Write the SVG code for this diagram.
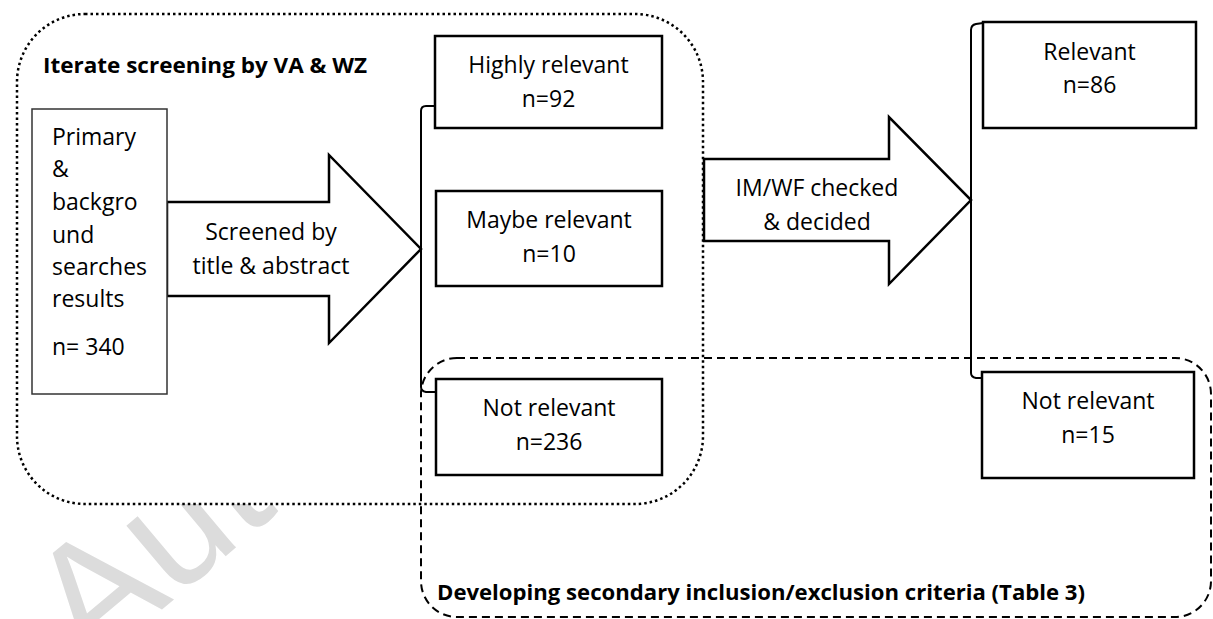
<svg xmlns="http://www.w3.org/2000/svg" width="1213" height="619" viewBox="0 0 1213 619">
<style>
.lbl{font-family:"Open Sans","Liberation Sans",sans-serif;font-size:23px;fill:#000;text-anchor:middle}
.lft{font-family:"Open Sans","Liberation Sans",sans-serif;font-size:23px;fill:#000}
.ttl{font-family:"Open Sans","Liberation Sans",sans-serif;font-size:21px;font-weight:700;fill:#000}
.box{fill:#fff;stroke:#000;stroke-width:2.5}
.arr{fill:#fff;stroke:#000;stroke-width:2.5;stroke-linejoin:miter}
.brk{fill:none;stroke:#000;stroke-width:2}
.wm{font-family:"Liberation Sans",sans-serif;font-size:165px;fill:#dcdcdc}
</style>
<rect width="1213" height="619" fill="#fff"/>
<text class="wm" transform="translate(90 670) rotate(-40)">Author</text>
<g id="group-iterate">
<rect x="17" y="14" width="686" height="490" rx="68" ry="68" fill="#fff" stroke="#000" stroke-width="2.5" stroke-dasharray="2.5 3"/>
<text class="ttl" x="43" y="73" textLength="324" lengthAdjust="spacingAndGlyphs">Iterate screening by VA &amp; WZ</text>
</g>
<g id="group-developing">
<rect x="421" y="358" width="790" height="259" rx="36" ry="36" fill="none" stroke="#000" stroke-width="2" stroke-dasharray="8 5"/>
<text class="ttl" x="437" y="600" textLength="648" lengthAdjust="spacingAndGlyphs">Developing secondary inclusion/exclusion criteria (Table 3)</text>
</g>
<g id="connectors">
<path class="brk" d="M435,106 L426,106 Q421,106 421,111 L421,387 Q421,391 426,392 L436,392"/>
<path class="brk" d="M983,23 L976,24 Q971,25 971,30 L971,373 Q971,377 976,378 L982,378"/>
<g id="arrow-screened">
<polygon class="arr" points="167,202 329,202 329,155 421,249 329,343 329,296 167,296"/>
<text class="lbl" x="271" y="240">Screened by</text>
<text class="lbl" x="271" y="274">title &amp; abstract</text>
</g>
<g id="arrow-checked">
<polygon class="arr" points="704,159 889,159 889,117 971,200 889,284 889,241 704,241"/>
<text class="lbl" x="817" y="196">IM/WF checked</text>
<text class="lbl" x="817" y="230">&amp; decided</text>
</g>
</g>
<g id="node-primary">
<rect x="32" y="109" width="135" height="285" fill="#fff" stroke="#333" stroke-width="1.5"/>
<text class="lft" x="52" y="145">Primary</text>
<text class="lft" x="52" y="177">&amp;</text>
<text class="lft" x="52" y="210">backgro</text>
<text class="lft" x="52" y="243">und</text>
<text class="lft" x="52" y="275">searches</text>
<text class="lft" x="52" y="307">results</text>
<text class="lft" x="52" y="355">n= 340</text>
</g>
<g id="node-highly">
<rect class="box" x="435" y="36" width="227" height="92"/>
<text class="lbl" x="548.5" y="73">Highly relevant</text>
<text class="lbl" x="548.5" y="107">n=92</text>
</g>
<g id="node-maybe">
<rect class="box" x="436" y="191" width="226" height="95"/>
<text class="lbl" x="549" y="228">Maybe relevant</text>
<text class="lbl" x="549" y="262">n=10</text>
</g>
<g id="node-notrel1">
<rect class="box" x="436" y="379" width="226" height="96"/>
<text class="lbl" x="549" y="416">Not relevant</text>
<text class="lbl" x="549" y="450">n=236</text>
</g>
<g id="node-relevant">
<rect class="box" x="983" y="22" width="213" height="106"/>
<text class="lbl" x="1089.5" y="60">Relevant</text>
<text class="lbl" x="1089.5" y="93">n=86</text>
</g>
<g id="node-notrel2">
<rect class="box" x="982" y="372" width="212" height="106"/>
<text class="lbl" x="1088" y="409">Not relevant</text>
<text class="lbl" x="1088" y="443">n=15</text>
</g>
</svg>
